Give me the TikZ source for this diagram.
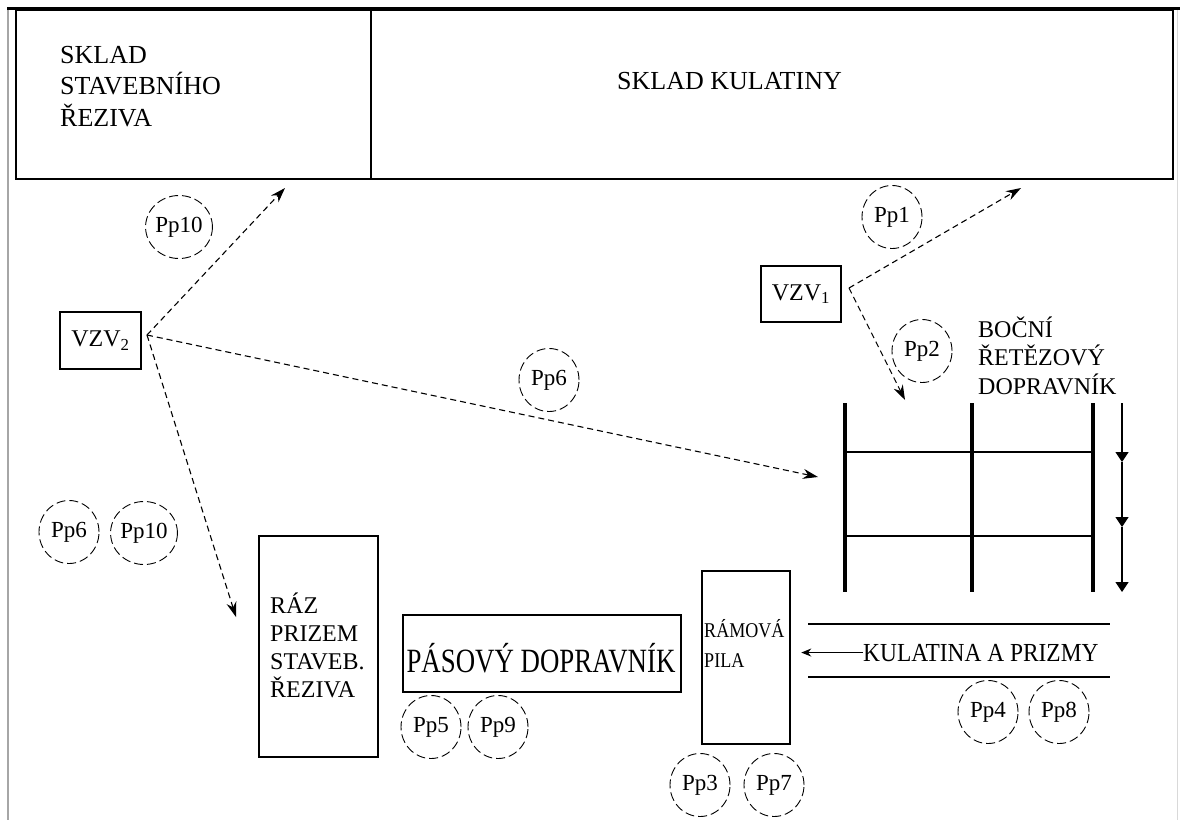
\documentclass[tikz,border=0pt]{standalone}
\usepackage{fontspec}
\setmainfont{Liberation Serif}
\usepackage{tikz}
\usetikzlibrary{arrows.meta,shapes.geometric,positioning}

\begin{document}
\begin{tikzpicture}[x=1pt, y=-1pt,
  box/.style={draw, line width=1.2pt, inner sep=0pt},
  txt/.style={inner sep=0pt, align=left},
  pp/.style={ellipse, draw, dashed, dash pattern=on 9pt off 4pt, line width=0.9pt,
    minimum width=60pt, minimum height=63pt, inner sep=0pt, font=\fontsize{23}{26}\selectfont},
  move/.style={dashed, dash pattern=on 6pt off 4pt, line width=1.1pt, -{Stealth[length=15pt,width=10pt]}}]

  \useasboundingbox (0,0) rectangle (1180,820);

  % ramecek
  \draw[gray!70, line width=2.5pt] (8,8) -- (8,820);
  \draw[gray!30, line width=1pt] (1177,8) -- (1177,820);
  \draw[line width=3pt] (7,8) -- (1180,8);

  % sklady
  \node[box, minimum width=355pt, minimum height=169pt] (skladrez) at (193.5,94.5) {};
  \node[box, minimum width=802pt, minimum height=169pt] (skladkul) at (772,94.5) {};
  \node[txt, anchor=base west, font=\fontsize{26}{31.5}\selectfont] (skladreztxt) at (60,126) {SKLAD\\STAVEBNÍHO\\ŘEZIVA};
  \node[txt, anchor=base west, font=\fontsize{26}{30}\selectfont] (skladkultxt) at (617,89) {SKLAD KULATINY};

  % voziky
  \node[box, minimum width=81pt, minimum height=57pt, font=\fontsize{24}{28}\selectfont] (vzv2) at (100.5,340.5) {VZV\textsubscript{2}};
  \node[box, minimum width=80pt, minimum height=56pt, font=\fontsize{24}{28}\selectfont] (vzv1) at (801,294) {VZV\textsubscript{1}};
  \coordinate (v2out) at (147,335);
  \coordinate (v1out) at (849,288);
  \coordinate (kskladrez) at (285,188);
  \coordinate (kskladkul) at (1021,188);
  \coordinate (kbocni) at (905,400);
  \coordinate (kbocni2) at (818,477);
  \coordinate (kraz) at (236,617);

  % presuny
  \draw[move] (v2out) -- (kskladrez);
  \draw[move] (v2out) -- (kbocni2);
  \draw[move] (v2out) -- (kraz);
  \draw[move] (v1out) -- (kskladkul);
  \draw[move] (v1out) -- (kbocni);

  % bocni retezovy dopravnik
  \foreach \x in {845,972,1093}
    \draw[line width=4pt] (\x,403) -- (\x,592);
  \foreach \y in {452,536}
    \draw[line width=1.2pt] (845,\y) -- (1093,\y);
  \foreach \a/\b in {403/462,462/527,527/592}
    \draw[line width=1.2pt, -{Triangle[length=10pt,width=13pt]}] (1122,\a) -- (1122,\b);
  \node[txt, anchor=base west, font=\fontsize{24}{28.5}\selectfont] (bocni) at (978,394) {BOČNÍ\\ŘETĚZOVÝ\\DOPRAVNÍK};

  % raz, dopravnik, pila
  \node[box, minimum width=119pt, minimum height=221pt] (raz) at (318.5,646.5) {};
  \node[txt, anchor=base west, font=\fontsize{24}{28}\selectfont] (raztxt) at (270,697) {RÁZ\\PRIZEM\\STAVEB.\\ŘEZIVA};
  \node[box, minimum width=278pt, minimum height=77pt] (pasovy) at (542,653.5) {};
  \node[txt, anchor=base, font=\fontsize{34}{38}\selectfont] (pasovytxt) at (541,672) {\scalebox{0.79}[1]{PÁSOVÝ DOPRAVNÍK}};
  \node[box, line width=2.5pt, minimum width=88pt, minimum height=173pt] (ramova) at (746,657.5) {};
  \node[txt, anchor=base west, font=\fontsize{21}{30}\selectfont] (ramovatxt) at (704,667) {\scalebox{0.86}[1]{RÁMOVÁ}\\\scalebox{0.86}[1]{PILA}};

  % kulatina a prizmy
  \draw[line width=1.2pt] (808,624) -- (1110,624);
  \draw[line width=1.2pt] (808,677) -- (1110,677);
  \node[txt, anchor=base west, font=\fontsize{26}{30}\selectfont] (kul) at (863,661) {\scalebox{0.9}[1]{KULATINA A PRIZMY}};
  \draw[line width=1.2pt, -{Stealth[length=10pt,width=8pt]}, shorten >=10pt] (kul.west) -- (kul.west -| ramova.east);

  % pracovni pozice
  \node[pp] (pp10a) at (179,227) {Pp10};
  \node[pp] (pp1) at (892,217) {Pp1};
  \node[pp] (pp2) at (922,351) {Pp2};
  \node[pp] (pp6a) at (549,380) {Pp6};
  \node[pp] (pp6b) at (69,532) {Pp6};
  \node[pp] (pp10b) at (144,533) {Pp10};
  \node[pp] (pp5) at (431,727) {Pp5};
  \node[pp] (pp9) at (498,727) {Pp9};
  \node[pp] (pp3) at (700,785) {Pp3};
  \node[pp] (pp7) at (774,785) {Pp7};
  \node[pp] (pp4) at (988,712) {Pp4};
  \node[pp] (pp8) at (1059,712) {Pp8};
\end{tikzpicture}
\end{document}
